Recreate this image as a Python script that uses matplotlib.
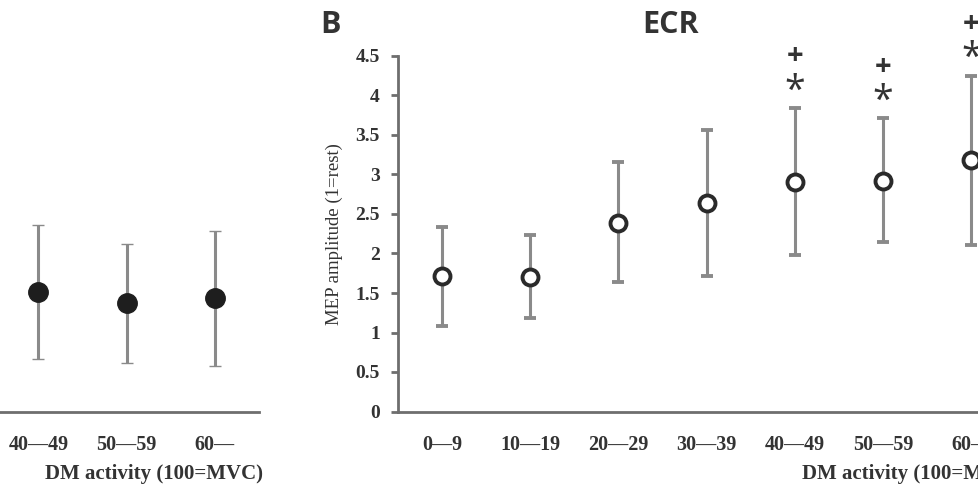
import matplotlib
matplotlib.use("Agg")
import matplotlib.pyplot as plt

# DM activity bins (100 = MVC)
categories = ["0\u20149", "10\u201419", "20\u201429", "30\u201439", "40\u201449", "50\u201459", "60\u2014"]

# panel B, ECR: mean and error bar ends
ecr_mean = [1.71, 1.70, 2.39, 2.64, 2.90, 2.92, 3.18]
ecr_upper = [2.34, 2.24, 3.16, 3.56, 3.84, 3.71, 4.25]
ecr_lower = [1.08, 1.18, 1.64, 1.71, 1.98, 2.15, 2.11]
ecr_sig = ["", "", "", "", "+*", "+*", "+*"]

# panel A (only the right part is in view)
a_cats = ["40\u201449", "50\u201459", "60\u2014"]
a_mean = [1.51, 1.37, 1.44]
a_upper = [2.36, 2.12, 2.28]
a_lower = [0.66, 0.61, 0.58]

serif = "Liberation Serif"
sans = "Open Sans"
grey = "#8a8a8a"
axcol = "#6e6e6e"
txt = "#333333"

fig = plt.figure(figsize=(9.79, 4.90), dpi=100)

W, H = 979.0, 490.0
step = 88.2
bottom = 1 - 411.5 / H
height = (411.5 - 56) / H


def style_axis(ax, show_y):
    ax.set_xlim(-0.5, len(categories) - 0.5)
    ax.set_ylim(0, 4.5)
    ax.spines["top"].set_visible(False)
    ax.spines["right"].set_visible(False)
    ax.spines["bottom"].set_color(axcol)
    ax.spines["bottom"].set_linewidth(2.0)
    ax.set_xticks(range(len(categories)))
    ax.set_xticklabels(categories, fontfamily=serif, fontweight="bold",
                       fontsize=14.5, color=txt)
    ax.tick_params(axis="x", length=0, pad=17)
    if show_y:
        ax.spines["left"].set_color(axcol)
        ax.spines["left"].set_linewidth(2.0)
        ax.set_yticks([0, 0.5, 1, 1.5, 2, 2.5, 3, 3.5, 4, 4.5])
        ax.set_yticklabels(["0", "0.5", "1", "1.5", "2", "2.5", "3", "3.5", "4", "4.5"],
                           fontfamily=serif, fontweight="bold", fontsize=14, color=txt)
        ax.tick_params(axis="y", length=5, width=2.0, color=axcol, pad=8, direction="out")
    else:
        ax.spines["left"].set_visible(False)
        ax.set_yticks([])


# right panel
x0 = 398
axB = fig.add_axes([x0 / W, bottom, 7 * step / W, height])
style_axis(axB, True)
xs = list(range(len(categories)))
axB.errorbar(xs, ecr_mean,
             yerr=[[m - lo for m, lo in zip(ecr_mean, ecr_lower)],
                   [u - m for m, u in zip(ecr_mean, ecr_upper)]],
             fmt="o", ms=11.5, mfc="white", mec="#2a2a2a", mew=2.8,
             ecolor=grey, elinewidth=2.2, capsize=4.2, capthick=2.2, zorder=3)
for i, s in enumerate(ecr_sig):
    if s:
        axB.text(i, ecr_upper[i] + 0.21, "*", ha="center", va="center",
                 fontfamily=sans, fontsize=27, color=txt, clip_on=False)
        axB.text(i, ecr_upper[i] + 0.65, "+", ha="center", va="center",
                 fontfamily=sans, fontweight="bold", fontsize=21, color=txt, clip_on=False)
axB.set_ylabel("MEP amplitude (1=rest)", fontfamily=serif, fontsize=13.5, color=txt, labelpad=9)
fig.text((x0 + 7 * step + 5) / W, 1 - 474 / H, "DM activity (100=MVC)", ha="right", va="center",
         fontfamily=serif, fontweight="bold", fontsize=15, color=txt)
fig.text(320 / W, 1 - 25 / H, "B", ha="left", va="center", fontfamily=sans,
         fontweight="bold", fontsize=22, color="#333333")
fig.text(671 / W, 1 - 25 / H, "ECR", ha="center", va="center", fontfamily=sans,
         fontweight="bold", fontsize=22, color="#333333")

# left panel
x1 = 259
axA = fig.add_axes([(x1 - 7 * step) / W, bottom, 7 * step / W, height])
style_axis(axA, False)
pos = [categories.index(c) for c in a_cats]
axA.errorbar(pos, a_mean,
             yerr=[[m - lo for m, lo in zip(a_mean, a_lower)],
                   [u - m for m, u in zip(a_mean, a_upper)]],
             fmt="o", ms=14, mfc="#1e1e1e", mec="#1e1e1e", mew=1,
             ecolor=grey, elinewidth=2.2, capsize=4.2, capthick=2.2, zorder=3)
fig.text((x1 + 4) / W, 1 - 474 / H, "DM activity (100=MVC)", ha="right", va="center",
         fontfamily=serif, fontweight="bold", fontsize=15, color=txt)

fig.savefig("out.png", dpi=100)
